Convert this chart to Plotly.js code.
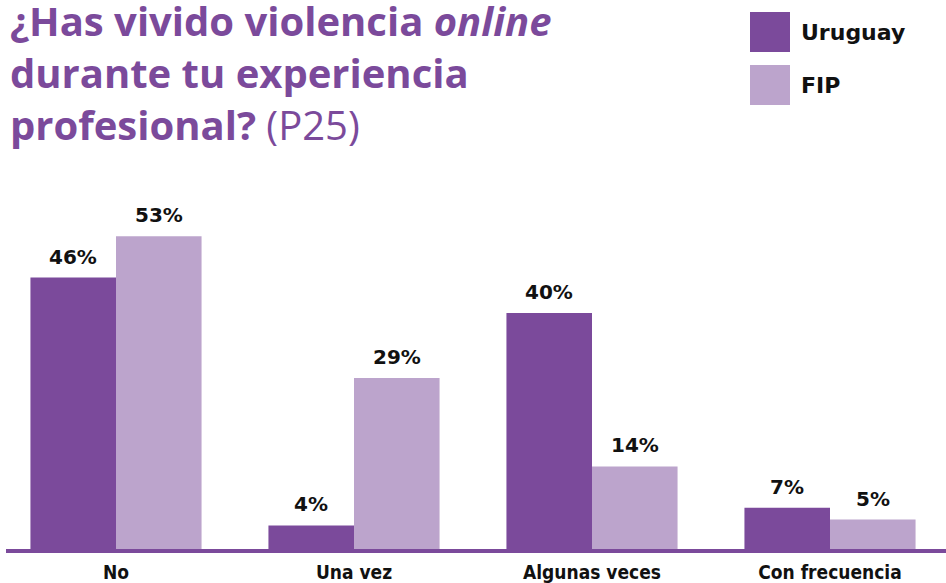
<!DOCTYPE html>
<html>
<head>
<meta charset="utf-8">
<script src="https://cdn.plot.ly/plotly-3.0.1.min.js"></script>
<style>html,body{margin:0;padding:0;background:#fff;}#chart{width:946px;height:583px;}</style>
</head>
<body>
<div id="chart"></div>
<script>
// ---- data ----
var categories = ["No", "Una vez", "Algunas veces", "Con frecuencia"];
var seriesNames = ["Uruguay", "FIP"];
var uruguayValues = [46, 4, 40, 7];
var fipValues = [53, 29, 14, 5];
var titleText = "<b>¿Has vivido violencia <i>online</i></b><br><b>durante tu experiencia</b><br><b>profesional?</b> (P25)";

// ---- styles ----
var darkPurple = "#7b4a9b";
var lightPurple = "#bca4cc";
var seriesColors = [darkPurple, lightPurple];
var plotH = 349; // plot area height in px
var halfBar = 42.75;

var traces = [
  {type: "bar", name: seriesNames[0], x: categories, y: uruguayValues,
   marker: {color: seriesColors[0]}, hoverinfo: "x+y"},
  {type: "bar", name: seriesNames[1], x: categories, y: fipValues,
   marker: {color: seriesColors[1]}, hoverinfo: "x+y"}
];

var annotations = [];
[uruguayValues, fipValues].forEach(function(vals, si) {
  vals.forEach(function(v, i) {
    annotations.push({
      x: categories[i], y: v, xref: "x", yref: "y",
      text: "<b>" + v + "%</b>", showarrow: false,
      xanchor: "center", yanchor: "bottom",
      xshift: si === 0 ? -halfBar : halfBar, yshift: 7,
      font: {family: "DejaVu Sans, Verdana, sans-serif", size: 20, color: "#111"}
    });
  });
});

// legend (custom, large squares)
var legendY = [32, 85];
var shapes = [
  {type: "rect", xref: "paper", yref: "paper", x0: 6/946, x1: 1,
   y0: -4/plotH, y1: 0, fillcolor: darkPurple, line: {width: 0}, layer: "above"}
];
seriesNames.forEach(function(n, i) {
  var cy = legendY[i];
  shapes.push({type: "rect", xref: "paper", yref: "paper",
    x0: 750/946, x1: 790/946, y0: (549 - (cy + 20))/plotH, y1: (549 - (cy - 20))/plotH,
    fillcolor: seriesColors[i], line: {width: 0}});
  annotations.push({xref: "paper", yref: "paper", x: 799/946, y: (549 - cy)/plotH,
    xanchor: "left", yanchor: "middle", showarrow: false, text: "<b>" + n + "</b>",
    font: {family: "DejaVu Sans, Verdana, sans-serif", size: 22, color: "#111"}});
});

var layout = {
  width: 946, height: 583,
  margin: {l: 0, r: 0, t: 200, b: 34, pad: 0},
  paper_bgcolor: "#fff", plot_bgcolor: "#fff",
  showlegend: false,
  barmode: "group", bargap: 0.281, bargroupgap: 0,
  title: {
    text: titleText,
    x: 10/946, xanchor: "left", xref: "paper",
    y: 1 - 36/583, yanchor: "top", yref: "container",
    font: {family: "Open Sans, sans-serif", size: 40, color: darkPurple}
  },
  xaxis: {
    type: "category", range: [-0.4874, 3.4874],
    showgrid: false, zeroline: false, showline: false, ticks: "",
    ticklabelstandoff: 10,
    tickfont: {family: "DejaVu Sans Condensed, Liberation Sans Narrow, sans-serif", size: 19, color: "#111", weight: "bold"},
    fixedrange: true
  },
  yaxis: {range: [0, plotH/5.9], visible: false, fixedrange: true},
  shapes: shapes,
  annotations: annotations
};

Plotly.newPlot("chart", traces, layout, {displayModeBar: false, staticPlot: true});
</script>
</body>
</html>
